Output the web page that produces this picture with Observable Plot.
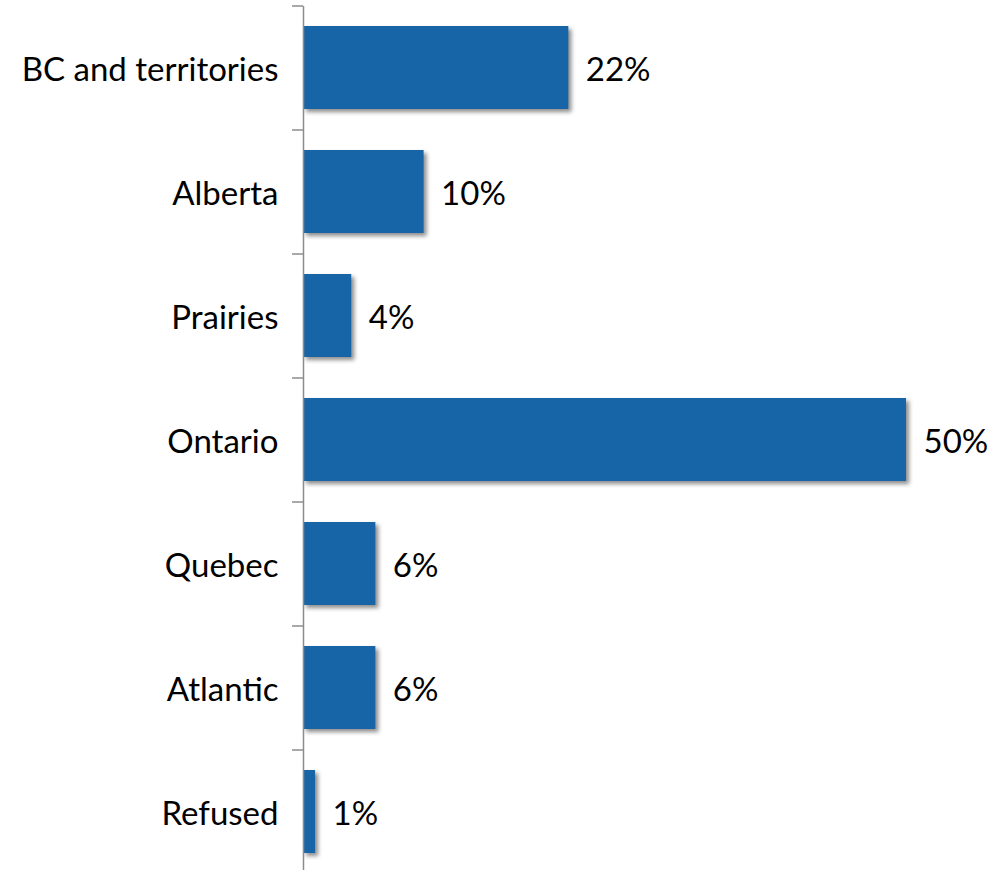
<!DOCTYPE html>
<html>
<head>
<meta charset="utf-8">
<script src="https://cdn.jsdelivr.net/npm/d3@7"></script>
<script src="https://cdn.jsdelivr.net/npm/@observablehq/plot@0.6"></script>
<style>
  html, body { margin: 0; padding: 0; background: #fff; overflow: hidden; }
  svg g[aria-label="bar"] rect { filter: drop-shadow(3px 3px 2px rgba(0,0,0,0.45)); }
</style>
</head>
<body>
<div id="chart"></div>
<script>
const regions = ["BC and territories", "Alberta", "Prairies", "Ontario", "Quebec", "Atlantic", "Refused"];
const shares = [22, 10, 4, 50, 6, 6, 1];
const data = regions.map((r, i) => ({region: r, value: shares[i]}));

const font = "Lato, 'Liberation Sans', sans-serif";
const chart = Plot.plot({
  width: 992,
  height: 870,
  marginLeft: 303,
  marginRight: 86,
  marginTop: 6,
  marginBottom: 0,
  style: {fontFamily: font, fontSize: "33px", color: "#000", background: "#fff"},
  x: {domain: [0, 50], axis: null},
  y: {domain: regions, range: [6, 874], paddingInner: 0.33, paddingOuter: 0.165, label: null},
  marks: [
    Plot.barX(data, {x: "value", y: "region", fill: "#1764A6"}),
    Plot.ruleX([0], {stroke: "#8c8c8c", strokeWidth: 1.5}),
    Plot.axisY({tickSize: 11, text: null, dy: -62, stroke: "#8c8c8c", strokeWidth: 1.5}),
    Plot.axisY({tickSize: 0, tickPadding: 25, fontSize: 33, fill: "#000", dy: 2}),
    Plot.text(data, {x: "value", y: "region", text: d => d.value + "%", dx: 17, dy: 2, textAnchor: "start", fontSize: 33, fill: "#000"})
  ]
});
document.getElementById("chart").appendChild(chart);
</script>
</body>
</html>
